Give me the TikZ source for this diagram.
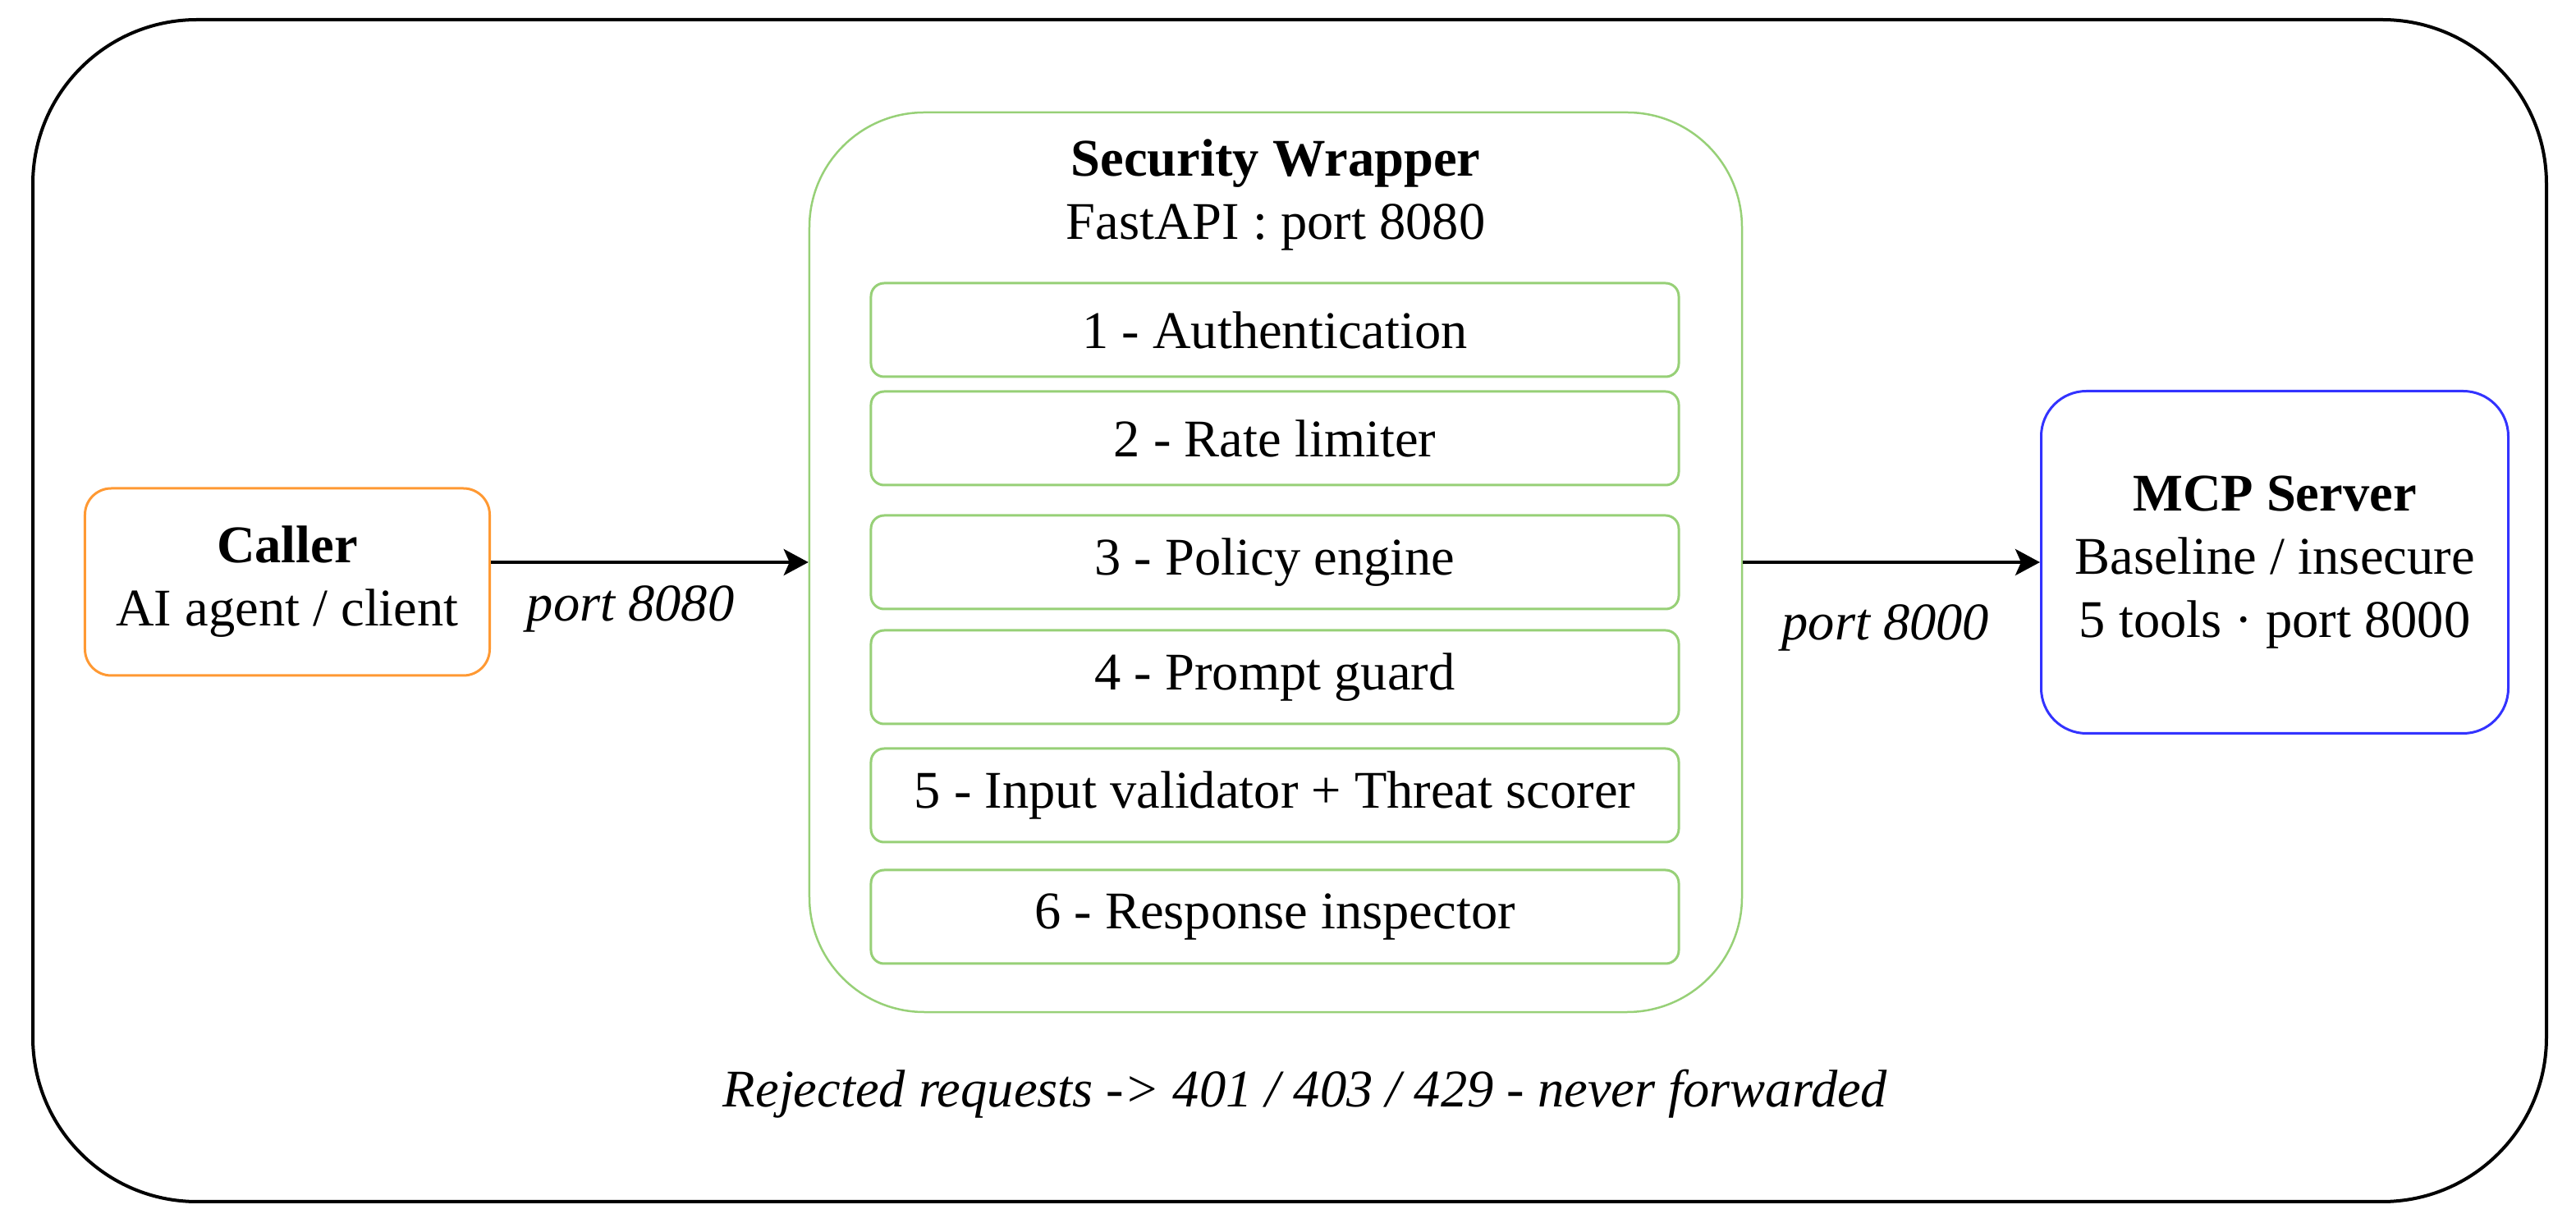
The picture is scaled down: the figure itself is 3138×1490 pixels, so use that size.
\documentclass[tikz,border=0pt]{standalone}
\usepackage{fontspec}
\setmainfont{Liberation Serif}
\usetikzlibrary{arrows.meta}
\definecolor{wrapgreen}{HTML}{97D077}
\definecolor{callorange}{HTML}{FF9933}
\definecolor{mcpblue}{HTML}{3333FF}

\begin{document}
\begin{tikzpicture}[x=0.2pt, y=-0.2pt,
    font=\fontsize{12.9}{15.4}\selectfont,
    stage/.style={draw=wrapgreen, line width=0.6pt, rounded corners=3.2pt,
      minimum width=196.8pt, minimum height=22.8pt, inner sep=0pt},
    flow/.style={line width=0.8pt, -{Stealth[length=6pt,width=6.4pt,inset=1.4pt]}},
    portnote/.style={font=\fontsize{12.9}{15.4}\selectfont\itshape}]
  \useasboundingbox (0,0) rectangle (3138,1490);
  \draw[line width=0.8pt, rounded corners=40pt] (40,24) rectangle (3102,1464);

  \node[draw=wrapgreen, line width=0.5pt, rounded corners=28pt,
    minimum width=227.2pt, minimum height=219.2pt] (wrap) at (1554,685) {};
  \node[align=center] (wraptitle) at (1554,237) {\textbf{Security Wrapper}\\FastAPI : port 8080};
  \foreach \y/\txt [count=\i] in {402/Authentication, 534/Rate limiter,
      685/Policy engine, 825/Prompt guard,
      969/Input validator + Threat scorer, 1117/Response inspector}
    \node[stage] (stage\i) at (1553,\y) {\i{} - \txt};

  \node[draw=callorange, line width=0.6pt, rounded corners=6.4pt,
    minimum width=98.6pt, minimum height=45.6pt, align=center] (caller) at (350,709)
    {\textbf{Caller}\\AI agent / client};
  \node[draw=mcpblue, line width=0.6pt, rounded corners=11pt,
    minimum width=113.8pt, minimum height=83.4pt, align=center] (mcp) at (2771,685)
    {\textbf{MCP Server}\\Baseline / insecure\\5 tools · port 8000};

  \draw[flow] (caller.east |- wrap.west) -- node[portnote, below=2pt, pos=0.44]{port 8080} (wrap.west);
  \draw[flow] (wrap.east) -- node[portnote, below=6.5pt, pos=0.48]{port 8000} (mcp.west);

  \node[portnote] (rejected) at (1590,1333) {Rejected requests -> 401 / 403 / 429 - never forwarded};
\end{tikzpicture}
\end{document}
